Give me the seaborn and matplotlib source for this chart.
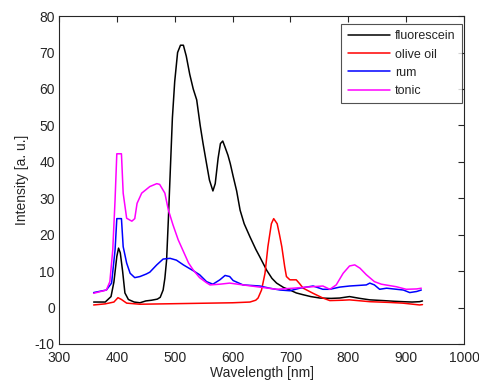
import numpy as np
import pandas as pd
import matplotlib
matplotlib.use("Agg")
import matplotlib.pyplot as plt
import seaborn as sns

# spectra (wavelength nm, intensity a.u.)
fluor_wl = [360, 380, 390, 395, 400, 403, 406, 410, 414, 420, 430, 440, 450, 460, 470, 475,
            480, 483, 486, 489, 492, 496, 500, 505, 510, 515, 520, 526, 532, 538, 544, 549,
            555, 560, 566, 570, 575, 579, 583, 587, 592, 596, 601, 607, 613, 620, 630, 640,
            647, 659, 668, 676, 688, 699, 710, 722, 735, 751, 770, 785, 802, 820, 837, 860,
            880, 894, 910, 923, 928]
fluor_int = [1.5, 1.5, 3, 7, 14, 16.3, 15, 10, 4, 2.2, 1.5, 1.3, 1.8, 2.0, 2.3, 2.8,
             4.8, 8, 13, 24, 36, 52, 62, 70, 72, 72, 69, 64, 60, 57, 50, 45,
             39.5, 35, 32, 34, 41, 45, 45.7, 44, 41.8, 39.5, 36, 32, 26.7, 23, 19.4, 16,
             13.9, 10.2, 8, 6.7, 5.5, 4.8, 4, 3.5, 3, 2.6, 2.5, 2.6, 3.0, 2.5, 2.1, 1.9,
             1.7, 1.6, 1.5, 1.6, 1.8]

olive_wl = [360, 380, 395, 402, 408, 417, 440, 480, 520, 560, 600, 630, 640, 644, 650, 656,
            661, 667, 671, 677, 681, 685, 690, 693, 699, 710, 716, 722, 739, 756, 768, 790,
            802, 837, 870, 894, 923, 928]
olive_int = [0.7, 1.0, 1.5, 2.7, 2.2, 1.2, 0.9, 1.0, 1.1, 1.2, 1.3, 1.5, 2, 2.6, 4.8, 9.4,
             16.7, 23, 24.4, 23, 20, 16.7, 11.2, 8.5, 7.6, 7.6, 6.5, 5.3, 3.9, 2.6, 1.9, 2.0,
             2.1, 1.6, 1.4, 1.2, 0.7, 0.8]

rum_wl = [360, 382, 391, 397, 400, 408, 411, 417, 423, 431, 440, 451, 457, 469, 480, 492,
          503, 515, 532, 543, 555, 566, 578, 587, 595, 601, 618, 647, 664, 682, 699, 716,
          739, 756, 768, 785, 802, 831, 837, 845, 854, 866, 895, 906, 918, 926]
rum_int = [4.1, 4.8, 6.7, 15.8, 24.4, 24.4, 16.7, 12.2, 9.4, 8.2, 8.5, 9.2, 9.7, 11.7, 13.3, 13.5,
           13, 11.7, 10.1, 9, 7.1, 6.4, 7.6, 8.8, 8.5, 7.4, 6.2, 5.9, 5.3, 4.8, 4.6, 5.3,
           5.9, 5.0, 5.0, 5.6, 5.9, 6.2, 6.7, 6.2, 5.0, 5.3, 4.8, 4.1, 4.4, 4.8]

tonic_wl = [360, 382, 388, 393, 397, 400, 408, 411, 417, 426, 431, 435, 443, 457, 469, 474,
            483, 489, 497, 506, 515, 524, 532, 543, 555, 561, 578, 595, 618, 647, 676, 705,
            728, 756, 768, 779, 791, 802, 811, 820, 831, 845, 857, 883, 900, 918, 926]
tonic_int = [3.9, 4.8, 7.1, 15.8, 29.6, 42.2, 42.2, 31.4, 24.5, 23.7, 24.4, 28.6, 31.4, 33.2, 34, 33.8,
             31.4, 26.8, 22.7, 18.6, 15.4, 12.2, 10.3, 8.2, 6.8, 6.2, 6.4, 6.7, 6.2, 5.6, 5.0, 5.3,
             5.6, 5.9, 5.0, 6.2, 9.4, 11.4, 11.7, 10.8, 9, 7.1, 6.4, 5.7, 5.0, 5.1, 5.3]

names = ["fluorescein", "olive oil", "rum", "tonic"]
colors = ["#000000", "#ff0000", "#0000ff", "#ff00ff"]

frames = []
for name, wl, inten in zip(names,
                           [fluor_wl, olive_wl, rum_wl, tonic_wl],
                           [fluor_int, olive_int, rum_int, tonic_int]):
    frames.append(pd.DataFrame({"wl": wl, "intensity": inten, "sample": name}))
df = pd.concat(frames, ignore_index=True)

sns.set_style("white")
plt.rcParams["font.family"] = ["Liberation Sans", "DejaVu Sans"]
plt.rcParams["axes.unicode_minus"] = False

fig = plt.figure(figsize=(4.79, 3.83), dpi=100)
ax = fig.add_axes([0.123, 0.102, 0.846, 0.856])

sns.lineplot(data=df, x="wl", y="intensity", hue="sample", hue_order=names,
             palette=colors, linewidth=1.1, sort=False, estimator=None, ax=ax)

ax.set_xlim(300, 1000)
ax.set_ylim(-10, 80)
ax.set_xticks(np.arange(300, 1001, 100))
ax.set_yticks(np.arange(-10, 81, 10))
ax.set_xlabel("Wavelength [nm]", fontsize=10, color="#262626", labelpad=1)
ax.set_ylabel("Intensity [a. u.]", fontsize=10, color="#262626", labelpad=4)
ax.tick_params(direction="in", length=4, width=0.8, top=True, right=True,
               labelsize=10, colors="#262626")
ax.tick_params(axis="x", pad=5)
ax.tick_params(axis="y", pad=3)
for s in ax.spines.values():
    s.set_visible(True)
    s.set_color("#262626")
    s.set_linewidth(0.8)

leg = ax.legend(loc="upper right", fontsize=9, frameon=True, fancybox=False,
                edgecolor="#262626", handlelength=3.4, borderaxespad=0,
                bbox_to_anchor=(462 / 479, 1 - 24 / 383), bbox_transform=fig.transFigure,
                labelspacing=0.5, handletextpad=0.4, borderpad=0.5)
leg.get_frame().set_linewidth(0.8)

fig.savefig("out.png", dpi=100)
